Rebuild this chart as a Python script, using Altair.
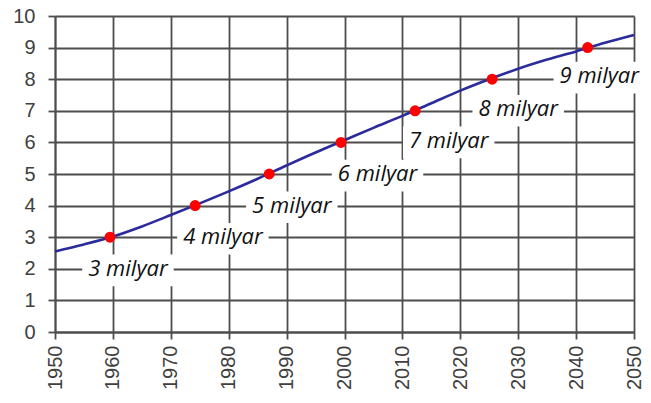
import altair as alt
import pandas as pd

# World population (billions) along the curve
years = [1950, 1955, 1960, 1965, 1970, 1975, 1980, 1985, 1990, 1995, 2000,
         2005, 2010, 2015, 2020, 2025, 2030, 2035, 2040, 2045, 2050]
population = [2.55, 2.77, 3.02, 3.34, 3.70, 4.07, 4.45, 4.85, 5.27, 5.68, 6.07,
              6.46, 6.84, 7.24, 7.64, 8.00, 8.33, 8.62, 8.88, 9.15, 9.40]

# Milestones (red dots)
milestone_years = [1959.5, 1974.2, 1987.0, 1999.4, 2012.2, 2025.5, 2042.0]
milestone_values = [3, 4, 5, 6, 7, 8, 9]

# Label texts and their anchor positions
label_texts = ["3 milyar", "4 milyar", "5 milyar", "6 milyar", "7 milyar", "8 milyar", "9 milyar"]
label_x = [1962.6, 1979.0, 1990.9, 2005.7, 2018.0, 2030.0, 2044.0]
label_y = [2.0, 3.0, 4.0, 5.0, 6.05, 7.05, 8.1]

x_ticks = list(range(1950, 2051, 10))
y_ticks = list(range(0, 11))

line_df = pd.DataFrame({"year": years, "pop": population})
pt_df = pd.DataFrame({"year": milestone_years, "pop": milestone_values})
lab_df = pd.DataFrame({"text": label_texts, "x": label_x, "y": label_y})
lab_df["x1"] = lab_df["x"] - 7.9
lab_df["x2"] = lab_df["x"] + 7.9
lab_df["y1"] = lab_df["y"] - 0.55
lab_df["y2"] = lab_df["y"] + 0.45

GRID = "#4d4d4d"

xscale = alt.Scale(domain=[1950, 2050], nice=False, zero=False)
yscale = alt.Scale(domain=[0, 10], nice=False)

common = dict(grid=True, gridColor=GRID, gridWidth=1.8, gridOpacity=1,
              domainColor=GRID, domainWidth=1.8, tickColor=GRID, tickWidth=1.8,
              tickSize=7, labelFont="Liberation Sans", labelFontSize=20,
              labelColor="#404040", labelOverlap=False, labelFlush=False,
              labelBound=False, title=None)

xaxis = alt.Axis(values=x_ticks, format="d", labelAngle=-90, labelPadding=6, **common)
yaxis = alt.Axis(values=y_ticks, labelPadding=13, **common)

line = alt.Chart(line_df).mark_line(color="#2b2b9c", strokeWidth=2.6, interpolate="monotone").encode(
    x=alt.X("year:Q", scale=xscale, axis=xaxis),
    y=alt.Y("pop:Q", scale=yscale, axis=yaxis),
)

boxes = alt.Chart(lab_df).mark_rect(color="white", clip=False).encode(
    x=alt.X("x1:Q", scale=xscale, axis=xaxis), x2="x2:Q",
    y=alt.Y("y1:Q", scale=yscale, axis=yaxis), y2="y2:Q",
)

points = alt.Chart(pt_df).mark_circle(color="#ff0000", size=120, opacity=1).encode(
    x=alt.X("year:Q", scale=xscale, axis=xaxis),
    y=alt.Y("pop:Q", scale=yscale, axis=yaxis),
)

texts = alt.Chart(lab_df).mark_text(font="Open Sans", fontStyle="italic", fontSize=22,
                                    color="#111111", align="center", baseline="middle").encode(
    x=alt.X("x:Q", scale=xscale, axis=xaxis),
    y=alt.Y("y:Q", scale=yscale, axis=yaxis),
    text="text:N",
)

chart = alt.layer(boxes, line, points, texts).properties(
    width=579, height=316,
    autosize=alt.AutoSizeParams(type="none"),
    padding={"left": 47, "top": 8, "right": 9, "bottom": 59},
).configure_view(stroke=None)

chart.save("out.html", embed_options={"renderer": "svg", "actions": False})
